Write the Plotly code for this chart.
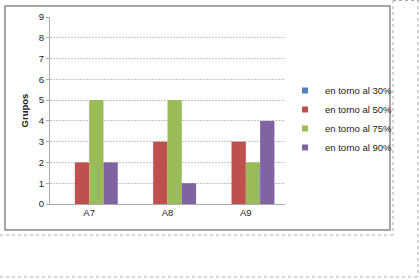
import plotly.graph_objects as go

categories = ["A7", "A8", "A9"]
series_names = ["en torno al 30%", "en torno al 50%", "en torno al 75%", "en torno al 90%"]
v30 = [0, 0, 0]
v50 = [2, 3, 3]
v75 = [5, 5, 2]
v90 = [2, 1, 4]
colors = ["#4F81BD", "#C0504D", "#9BBB59", "#8064A2"]
y_ticks = list(range(0, 10))

W, H = 420, 280
L, R, T, B = 50, 135, 17, 76
pw, ph = W - L - R, H - T - B

def px(x):
    return (x - L) / pw

def py(y):
    return (H - B - y) / ph

fig = go.Figure()
for name, vals, c in zip(series_names, [v30, v50, v75, v90], colors):
    fig.add_trace(go.Bar(x=categories, y=vals, name=name, showlegend=False,
                         marker=dict(color=c, line=dict(width=0))))
# legend entries (small square keys like the original)
for name, c in zip(series_names, colors):
    fig.add_trace(go.Scatter(x=[None], y=[None], mode="markers", name=name,
                             marker=dict(symbol="square", size=6, color=c)))

font = "Liberation Sans, Arial, sans-serif"
fig.update_layout(
    width=W, height=H,
    margin=dict(l=L, r=R, t=T, b=B),
    paper_bgcolor="white", plot_bgcolor="white",
    barmode="group", bargap=0.27, bargroupgap=0,
    font=dict(family=font, size=9, color="#222"),
    showlegend=True,
    legend=dict(x=px(285), y=py(76), xanchor="left", yanchor="top",
                font=dict(size=9.5, color="#222"), itemwidth=30,
                tracegroupgap=0, bgcolor="rgba(0,0,0,0)"),
    xaxis=dict(showgrid=False, showline=True, linecolor="#aaa", linewidth=1,
               ticks="", tickfont=dict(size=9.5), fixedrange=True),
    yaxis=dict(range=[0, 9], tickvals=y_ticks, showgrid=True, gridcolor="#c4c4c4",
               griddash="2px,1px", gridwidth=1, showline=True, linecolor="#aaa",
               ticks="outside", ticklen=3, tickcolor="#aaa", tickfont=dict(size=9.5),
               zeroline=False,
               title=dict(text="<b>Grupos</b>", font=dict(size=9.5), standoff=8)),
)

shapes = [
    dict(type="rect", xref="paper", yref="paper", x0=px(5), x1=px(390), y0=py(230), y1=py(6),
         line=dict(color="#888", width=1.5)),
    dict(type="line", xref="paper", yref="paper", x0=px(0), x1=px(393), y0=py(235), y1=py(235),
         line=dict(color="#aaa", width=1, dash="dot")),
    dict(type="line", xref="paper", yref="paper", x0=px(393), x1=px(393), y0=py(0), y1=py(235),
         line=dict(color="#aaa", width=1, dash="dot")),
    dict(type="line", xref="paper", yref="paper", x0=px(393), x1=px(419), y0=py(0.5), y1=py(0.5),
         line=dict(color="#aaa", width=1, dash="dot")),
    dict(type="line", xref="paper", yref="paper", x0=px(418), x1=px(418), y0=py(0), y1=py(277),
         line=dict(color="#aaa", width=1, dash="dot")),
    dict(type="line", xref="paper", yref="paper", x0=px(0), x1=px(418), y0=py(277), y1=py(277),
         line=dict(color="#aaa", width=1, dash="dot")),
]
fig.update_layout(shapes=shapes)

fig.write_html("out.html", config={"displayModeBar": False},
               post_script="document.body.style.margin='0';document.body.style.overflow='hidden';")
